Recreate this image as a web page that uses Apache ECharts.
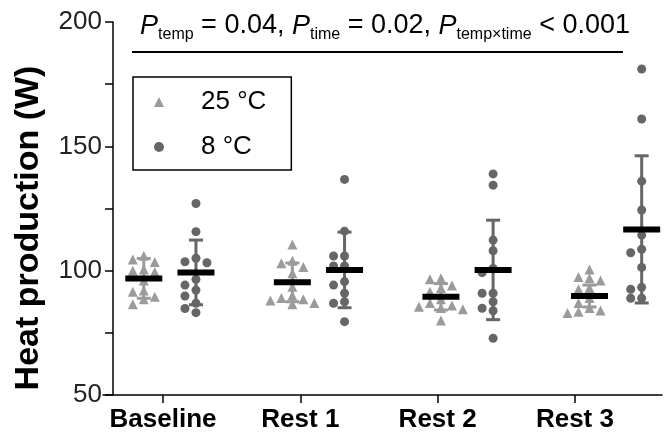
<!DOCTYPE html>
<html>
<head>
<meta charset="utf-8">
<style>html,body{margin:0;padding:0;width:668px;height:439px;background:#fff;overflow:hidden;}#chart{width:668px;height:439px;}</style>
<script src="https://cdn.jsdelivr.net/npm/echarts@6/dist/echarts.min.js"></script>
</head>
<body>
<div id="chart"></div>
<script>
// data (W)
var categories = ['Baseline', 'Rest 1', 'Rest 2', 'Rest 3'];
var warm = [
  [106, 104.5, 103.5, 100.5, 100, 99.5, 96, 92, 91.5, 89.5, 88.5, 86.5],
  [110.5, 104, 103, 101.5, 99, 93.5, 90, 89, 88.5, 88, 87, 86.5],
  [97, 96.5, 94, 93, 91.5, 88.5, 87, 86, 85.5, 85, 84.5, 80],
  [100.5, 97.5, 97, 96, 93, 92.5, 89, 87, 85, 84, 83.5, 83]
];
var cold = [
  [127, 115.7, 105, 103.6, 103.2, 96.5, 94.2, 92.2, 89.8, 86.9, 84.8, 83.1],
  [136.7, 115.9, 105.9, 105.9, 101.9, 101.9, 95.6, 94.2, 90.9, 87.5, 86.9, 79.5],
  [138.9, 134.4, 112.3, 108, 100.9, 99.2, 90.9, 90.9, 87.5, 84.9, 83.9, 72.8],
  [181.1, 161, 136, 124.4, 114.3, 108.6, 107.2, 101.3, 93.3, 92.5, 88.9, 88.9]
];
var warmMean = [96.9, 95.3, 89.5, 89.8];
var warmSD = [8.0, 7.8, 5.3, 4.4];
var coldMean = [99.3, 100.3, 100.3, 116.6];
var coldSD = [13.0, 15.2, 20.0, 29.6];
var yTicks = [50, 100, 150, 200];

// layout (x in category-index units, 1 unit = distance between ticks)
var groupStart = 0.05, groupStep = 1.082, sideOffset = 0.19, colStep = 0.08;
var minGap = 3.4; // W, about one marker height
var font = 'Liberation Sans, Arial, sans-serif';

// simple beeswarm: put each point in the nearest free column
function swarm(values) {
  var placed = [];
  var cols = [];
  var order = values.map(function (v, i) { return i; })
    .sort(function (a, b) { return values[b] - values[a]; });
  order.forEach(function (i) {
    var tries = [0, -1, 1, -2, 2];
    for (var k = 0; k < tries.length; k++) {
      var c = tries[k];
      var clash = placed.some(function (p) { return p.col === c && Math.abs(p.v - values[i]) < minGap; });
      if (!clash) { cols[i] = c; placed.push({ col: c, v: values[i] }); break; }
    }
  });
  return cols;
}

function points(groups, side) {
  var out = [];
  groups.forEach(function (vals, g) {
    var cols = swarm(vals);
    var cx = groupStart + g * groupStep + side * sideOffset;
    vals.forEach(function (v, i) { out.push([cx + cols[i] * colStep, v]); });
  });
  return out;
}

function stats(mean, sd, side) {
  return mean.map(function (m, g) { return [groupStart + g * groupStep + side * sideOffset, m, sd[g]]; });
}

function whisker(color) {
  return function (params, api) {
    var x = api.value(0), m = api.value(1), s = api.value(2);
    var top = api.coord([x, m + s]);
    var bot = api.coord([x, m - s]);
    var st = { stroke: color, lineWidth: 3 };
    return {
      type: 'group',
      children: [
        { type: 'line', shape: { x1: top[0], y1: top[1], x2: bot[0], y2: bot[1] }, style: st },
        { type: 'line', shape: { x1: top[0] - 7, y1: top[1], x2: top[0] + 7, y2: top[1] }, style: st },
        { type: 'line', shape: { x1: bot[0] - 7, y1: bot[1], x2: bot[0] + 7, y2: bot[1] }, style: st }
      ]
    };
  };
}

function meanBar(params, api) {
  var p = api.coord([api.value(0), api.value(1)]);
  return { type: 'rect', shape: { x: p[0] - 18.5, y: p[1] - 3, width: 37, height: 6 }, style: { fill: '#000' } };
}

var warmColor = '#9b9b9b', coldColor = '#666666';

var chart = echarts.init(document.getElementById('chart'), null, { renderer: 'canvas' });
chart.setOption({
  animation: false,
  backgroundColor: '#fff',
  grid: { left: 103, right: 6, top: 22, bottom: 44 },
  legend: {
    orient: 'vertical',
    left: 133,
    top: 77,
    padding: [10, 25, 8, 21],
    borderColor: '#000',
    borderWidth: 1.5,
    itemWidth: 10,
    itemHeight: 10,
    itemGap: 15,
    textStyle: { fontSize: 26, fontFamily: font, color: '#000', lineHeight: 30, padding: [0, 0, 0, 32] },
    data: [{ name: '25 °C', icon: 'triangle' }, { name: '8 °C', icon: 'circle' }]
  },
  xAxis: {
    type: 'value',
    min: -0.437,
    max: 3.634,
    axisLine: { onZero: false, lineStyle: { color: '#000', width: 1.5 } },
    axisTick: { customValues: [0, 1, 2, 3], length: 8, lineStyle: { color: '#000', width: 1.5 } },
    axisLabel: {
      customValues: [0, 1, 2, 3],
      formatter: function (v) { return categories[Math.round(v)]; },
      margin: 12, fontSize: 26, fontWeight: 'bold', fontFamily: font, color: '#000'
    },
    splitLine: { show: false }
  },
  yAxis: {
    type: 'value',
    min: yTicks[0],
    max: yTicks[yTicks.length - 1],
    interval: 50,
    offset: -10,
    axisLine: { show: true, onZero: false, lineStyle: { color: '#000', width: 1.5 } },
    axisTick: { show: true, length: 8, lineStyle: { color: '#000', width: 1.5 } },
    minorTick: { show: true, splitNumber: 2, length: 8, lineStyle: { color: '#000', width: 1.5 } },
    axisLabel: { margin: 11, fontSize: 26, fontFamily: font, color: '#222' },
    splitLine: { show: false }
  },
  graphic: [
    {
      type: 'text', x: 29, y: 228, rotation: Math.PI / 2,
      style: { text: 'Heat production (W)', fill: '#000', font: 'bold 34px ' + font, align: 'center', verticalAlign: 'middle' }
    },
    {
      type: 'text', x: 385, y: 9,
      style: {
        text: '{pi|P}{sub|temp}{t| = 0.04, }{pi|P}{sub|time}{t| = 0.02, }{pi|P}{sub|temp×time}{t| < 0.001}',
        align: 'center', verticalAlign: 'top', fill: '#000',
        rich: {
          pi: { fontSize: 27, fontStyle: 'italic', fontFamily: font, lineHeight: 34 },
          t: { fontSize: 27, fontFamily: font, lineHeight: 34 },
          sub: { fontSize: 16, fontFamily: font, lineHeight: 16, verticalAlign: 'bottom' }
        }
      }
    },
    { type: 'line', shape: { x1: 132, y1: 52, x2: 623, y2: 52 }, style: { stroke: '#000', lineWidth: 2 } }
  ],
  series: [
    { name: 'sd25', type: 'custom', renderItem: whisker(warmColor), data: stats(warmMean, warmSD, -1), z: 2 },
    { name: 'sd8', type: 'custom', renderItem: whisker(coldColor), data: stats(coldMean, coldSD, 1), z: 2 },
    { name: '25 °C', type: 'scatter', symbol: 'triangle', symbolSize: 10, itemStyle: { color: warmColor, opacity: 1 }, data: points(warm, -1), z: 3 },
    { name: '8 °C', type: 'scatter', symbol: 'circle', symbolSize: 9, itemStyle: { color: coldColor, opacity: 1 }, data: points(cold, 1), z: 3 },
    { name: 'mean25', type: 'custom', renderItem: meanBar, data: stats(warmMean, warmSD, -1), z: 4 },
    { name: 'mean8', type: 'custom', renderItem: meanBar, data: stats(coldMean, coldSD, 1), z: 4 }
  ]
});
</script>
</body>
</html>
